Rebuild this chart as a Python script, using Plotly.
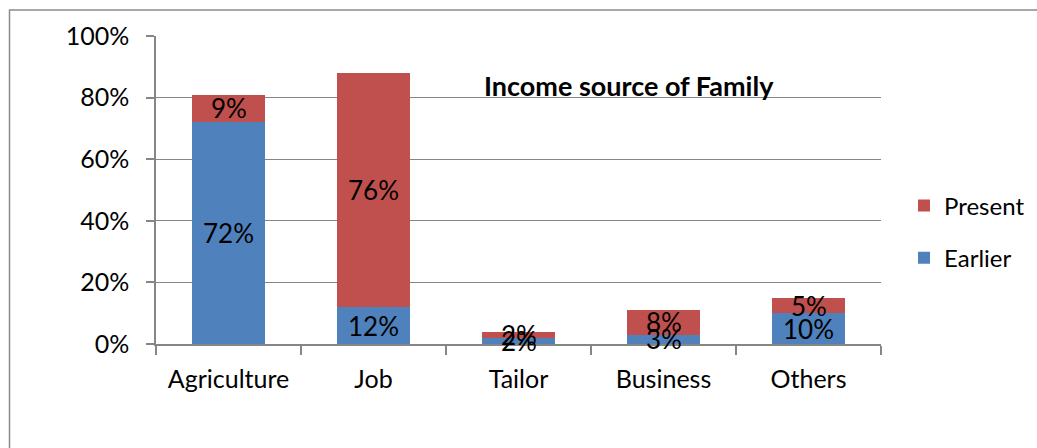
import plotly.graph_objects as go

# Income source of family, shares of households
categories = ["Agriculture", "Job", "Tailor", "Business", "Others"]
earlier = [0.72, 0.12, 0.02, 0.03, 0.10]
present = [0.09, 0.76, 0.02, 0.08, 0.05]
y_ticks = [0, 0.2, 0.4, 0.6, 0.8, 1.0]

BLUE = "#4F81BD"
RED = "#C0504D"
GRID = "#868686"
FONT = "Lato"
FS = 25

W, H = 1037, 448
L, R, T, B = 156, 156, 36, 104

fig = go.Figure()
fig.add_trace(go.Bar(
    x=categories, y=earlier, name="Earlier",
    marker=dict(color=BLUE, line=dict(width=0)),
    legendgroup="e", legendrank=2,
))
fig.add_trace(go.Bar(
    x=categories, y=present, name="Present",
    marker=dict(color=RED, line=dict(width=0)),
    legendgroup="p", legendrank=1,
))

# value labels centred in each stacked segment, drawn above all bars
labels = []
for cat, e, p in zip(categories, earlier, present):
    for base, v in ((0, e), (e, p)):
        labels.append(dict(
            x=cat, y=base + v / 2, xref="x", yref="y",
            text=f"{v:.0%}", showarrow=False,
            xanchor="center", yanchor="middle",
            font=dict(family=FONT, size=26, color="black"),
        ))

pw = W - L - R
ph = H - T - B

labels.append(dict(
    text="<b>Income source of Family</b>", xref="paper", yref="paper",
    x=(629 - L) / pw, y=(344 - 85) / ph, xanchor="center", yanchor="middle",
    showarrow=False, font=dict(family=FONT, size=27, color="black"),
))

fig.update_layout(
    width=W, height=H,
    margin=dict(l=L, r=R, t=T, b=B, autoexpand=False),
    barmode="stack", bargap=0.5,
    plot_bgcolor="white", paper_bgcolor="white",
    font=dict(family=FONT, size=FS, color="black"),
    showlegend=True,
    legend=dict(
        x=(904 - L) / pw, y=(344 - 232) / ph, xanchor="left", yanchor="middle",
        traceorder="grouped", tracegroupgap=18,
        font=dict(family=FONT, size=24, color="black"),
        itemwidth=30, bgcolor="rgba(0,0,0,0)",
    ),
    xaxis=dict(
        type="category", tickson="boundaries", ticks="outside", ticklen=9,
        tickcolor=GRID, tickwidth=1.5, showline=True, linecolor=GRID, linewidth=1.5,
        showgrid=False, tickfont=dict(family=FONT, size=FS),
        ticklabelstandoff=12,
    ),
    yaxis=dict(
        range=[0, 1], tickvals=y_ticks, tickformat=".0%",
        ticks="outside", ticklen=8, tickcolor=GRID, tickwidth=1.5,
        showline=True, linecolor=GRID, linewidth=1.5,
        showgrid=True, gridcolor=GRID, gridwidth=1.3, zeroline=False,
        tickfont=dict(family=FONT, size=FS), ticklabelstandoff=12,
    ),
    annotations=labels,
    shapes=[dict(
        type="rect", xref="paper", yref="paper",
        x0=(9.5 - L) / pw, x1=(W + 5 - L) / pw,
        y0=(344 - (H + 5)) / ph, y1=(344 - 10) / ph,
        line=dict(color="#8C8C8C", width=1.5), fillcolor="rgba(0,0,0,0)",
        layer="below",
    )],
)

fig.write_html("out.html")
